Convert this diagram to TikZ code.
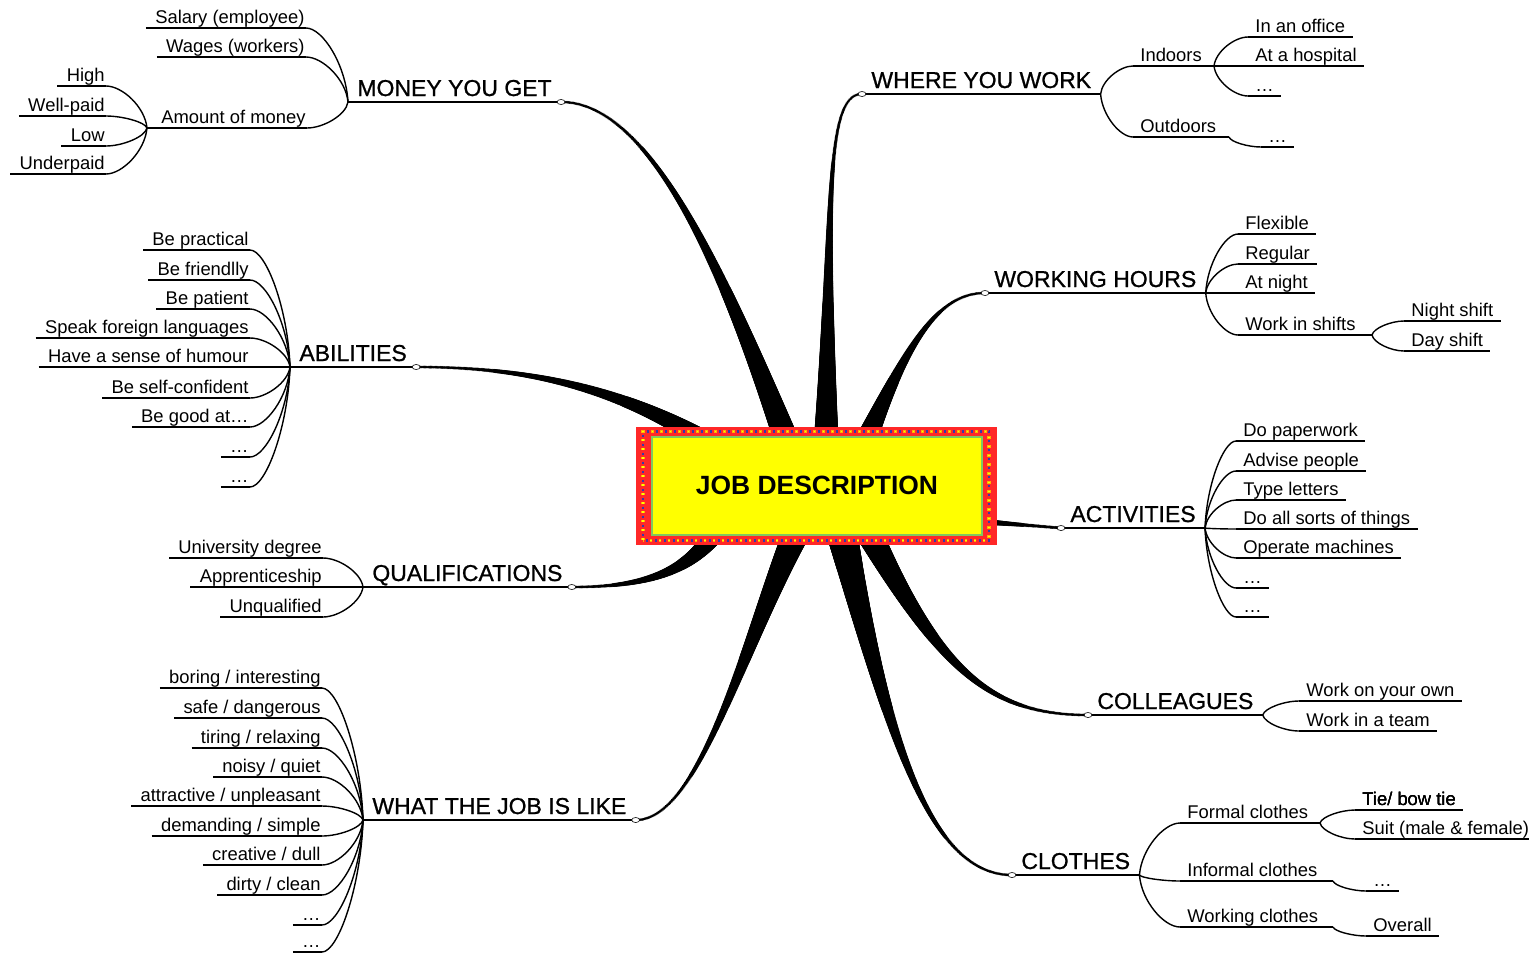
\documentclass[tikz,border=0pt]{standalone}
\usepackage{fontspec}
\setmainfont{Liberation Sans}
\newfontfamily\topicfont{Liberation Sans}[FakeBold=0.9]
\usetikzlibrary{calc,decorations.markings}

\definecolor{boxred}{HTML}{FF2828}
\definecolor{boxyellow}{HTML}{FFFF00}
\definecolor{boxgreen}{HTML}{80C860}
\definecolor{dotblue}{HTML}{3838A8}
\definecolor{dotorange}{HTML}{FFB000}

% thin curved link from a hub to the start of an underline
\newcommand{\twig}[2]{\draw[twigline] let \p1=(#1), \p2=(#2) in (\p1) .. controls ({\x1+0.05*(\x2-\x1)},{\y1+0.5*(\y2-\y1)}) and ({\x1+0.6*(\x2-\x1)},\y2) .. (\p2);}

\tikzset{
  leaf/.style={font=\fontsize{9.2}{11}\selectfont, inner xsep=0pt, inner ysep=0pt, text height=6.6pt, text depth=2.3pt},
  lleaf/.style={leaf, anchor=south east, execute at begin node={\hspace*{4.5pt}}, execute at end node={\hspace*{0.5pt}}},
  rleaf/.style={leaf, anchor=south west, execute at begin node={\hspace*{3.5pt}}, execute at end node={\hspace*{3.5pt}}},
  topic/.style={font=\fontsize{11.5}{14}\topicfont, inner xsep=4.5pt, inner ysep=0pt, text height=8.4pt, text depth=2.8pt, anchor=south west},
  twigline/.style={line width=0.7pt},
  stem/.style={line width=1pt},
  knot/.style={fill=white, draw=black, line width=0.3pt},
  limb/.style 2 args={decoration={markings,
      mark=between positions 0 and 1 step 0.6pt with {\fill (0,0) circle[radius={#2+(#1-#2)*(1-\pgfkeysvalueof{/pgf/decoration/mark info/distance from start}/\pgfdecoratedpathlength)^2}];}},
    decorate}
}

\begin{document}
\begin{tikzpicture}[x=0.5pt, y=-0.5pt]
    \useasboundingbox (0,0) rectangle (1529,954);

    % Main topics
    \node[topic] (money) at (348,102) {MONEY YOU GET};
    \node[topic] (abil) at (290,367) {ABILITIES};
    \node[topic] (qual) at (363,587) {QUALIFICATIONS};
    \node[topic] (like) at (363,820) {WHAT THE JOB IS LIKE};
    \node[topic] (where) at (862,94) {WHERE YOU WORK};
    \node[topic] (hours) at (985,293) {WORKING HOURS};
    \node[topic] (act) at (1061,528) {ACTIVITIES};
    \node[topic] (coll) at (1088,715) {COLLEAGUES};
    \node[topic] (clo) at (1012,875) {CLOTHES};
    \foreach \k in {money,abil,qual,like,where,hours,act,coll,clo}
        \draw[stem] (\k.south west) -- (\k.south east);

    % Branch roots (hidden under the centre box)
    \coordinate (rmoney) at (790,450);
    \coordinate (rwhere) at (826,450);
    \coordinate (rhours) at (862,450);
    \coordinate (rabil) at (720,450);
    \coordinate (ract) at (975,521);
    \coordinate (rqual) at (720,525);
    \coordinate (rlike) at (800,525);
    \coordinate (rcoll) at (865,525);
    \coordinate (rclo) at (840,525);

    % Branches
    \path[limb={6.5}{0.7}] (rmoney) .. controls (730,290) and (655,102) .. (money.south east);
    \path[limb={6.5}{0.7}] (rwhere) .. controls (830,200) and (826,94) .. (where.south west);
    \path[limb={6}{0.7}] (rhours) .. controls (905,350) and (935,293) .. (hours.south west);
    \path[limb={5.5}{0.7}] (rabil) .. controls (620,385) and (520,367) .. (abil.south east);
    \path[limb={1.8}{0.8}] (ract) -- (act.south west);
    \path[limb={5.5}{0.7}] (rqual) .. controls (690,575) and (640,587) .. (qual.south east);
    \path[limb={7}{0.7}] (rlike) .. controls (745,640) and (700,820) .. (like.south east);
    \path[limb={7}{0.7}] (rcoll) .. controls (940,670) and (990,715) .. (coll.south west);
    \path[limb={8}{0.7}] (rclo) .. controls (885,720) and (925,875) .. (clo.south west);

    \foreach \k/\a in {money/south east,abil/south east,qual/south east,like/south east,where/south west,hours/south west,act/south west,coll/south west,clo/south west}
        \filldraw[knot] (\k.\a) ellipse (4 and 2.5);

    % Centre box
    \node[fill=boxred, minimum width=180.5pt, minimum height=59pt, inner sep=0pt] (job) at (816,486) {};
    \draw[dotorange, line width=1.8pt, dash pattern=on 1.4pt off 3.1pt] ($(job.south west)+(8,-5)$) rectangle ($(job.north east)+(-8,5)$);
    \draw[boxyellow, line width=0.8pt, dash pattern=on 0.6pt off 3.9pt, dash phase=-0.4pt] ($(job.south west)+(8,-5)$) rectangle ($(job.north east)+(-8,5)$);
    \draw[dotblue, line width=1.3pt, dash pattern=on 1.1pt off 3.4pt, dash phase=2.4pt] ($(job.south west)+(8,-5)$) rectangle ($(job.north east)+(-8,5)$);
    \node[fill=boxyellow, draw=boxgreen, line width=1pt, minimum width=165pt, minimum height=49pt, inner sep=0pt, font=\fontsize{13.2}{15}\selectfont\bfseries] (jobtext) at (817,485.5) {JOB DESCRIPTION};

    % Money you get
    \node[lleaf] (sal) at (306,28) {Salary (employee)};
    \node[lleaf] (wag) at (306,57) {Wages (workers)};
    \node[lleaf] (amt) at (307,128) {Amount of money};
    \coordinate (amthub) at (147,128);
    \foreach \k in {sal,wag}
        {\draw[twigline] (\k.south west) -- (\k.south east); \twig{money.south west}{\k.south east}}
    \draw[twigline] (amthub) -- (amt.south east);
    \twig{money.south west}{amt.south east}
    \foreach \t/\v [count=\i] in {High/86, Well-paid/116, Low/146, Underpaid/174}
        {\node[lleaf] (pay\i) at (106,\v) {\t};
         \draw[twigline] (pay\i.south west) -- (pay\i.south east);
         \twig{amthub}{pay\i.south east}}

    % Abilities
    \foreach \t/\v [count=\i] in {Be practical/250, Be friendlly/280, Be patient/309, Speak foreign languages/338, Have a sense of humour/367, Be self-confident/398, Be good at\dots/427, \dots/457, \dots/487}
        {\node[lleaf] (ab\i) at (250,\v) {\t};
         \draw[twigline] (ab\i.south west) -- (ab\i.south east);
         \twig{abil.south west}{ab\i.south east}}

    % Qualifications
    \foreach \t/\v [count=\i] in {University degree/558, Apprenticeship/587, Unqualified/617}
        {\node[lleaf] (qu\i) at (323,\v) {\t};
         \draw[twigline] (qu\i.south west) -- (qu\i.south east);
         \twig{qual.south west}{qu\i.south east}}

    % What the job is like
    \foreach \t/\v [count=\i] in {{boring / interesting}/688, {safe / dangerous}/718, {tiring / relaxing}/748, {noisy / quiet}/777, {attractive / unpleasant}/806, {demanding / simple}/836, {creative / dull}/865, {dirty / clean}/895, \dots/925, \dots/952}
        {\node[lleaf] (li\i) at (322,\v) {\t};
         \draw[twigline] (li\i.south west) -- (li\i.south east);
         \twig{like.south west}{li\i.south east}}

    % Where you work
    \node[rleaf] (indoors) at (1133,66) {Indoors};
    \coordinate (indhub) at (1214,66);
    \node[rleaf] (outdoors) at (1133,137) {Outdoors};
    \coordinate (outhub) at (1229,137);
    \draw[twigline] (indoors.south west) -- (indhub);
    \draw[twigline] (outdoors.south west) -- (outhub);
    \twig{where.south east}{indoors.south west}
    \twig{where.south east}{outdoors.south west}
    \foreach \t/\v [count=\i] in {In an office/37, At a hospital/66, \dots/96}
        {\node[rleaf] (in\i) at (1248,\v) {\t};
         \draw[twigline] (in\i.south west) -- (in\i.south east);
         \twig{indhub}{in\i.south west}}
    \node[rleaf] (outdots) at (1261,147) {\dots};
    \draw[twigline] (outdots.south west) -- (outdots.south east);
    \twig{outhub}{outdots.south west}

    % Working hours
    \foreach \t/\v [count=\i] in {Flexible/234, Regular/264, At night/293}
        {\node[rleaf] (ho\i) at (1238,\v) {\t};
         \draw[twigline] (ho\i.south west) -- (ho\i.south east);
         \twig{hours.south east}{ho\i.south west}}
    \node[rleaf] (shifts) at (1238,335) {Work in shifts};
    \coordinate (shifthub) at (1372,335);
    \draw[twigline] (shifts.south west) -- (shifthub);
    \twig{hours.south east}{shifts.south west}
    \foreach \t/\v [count=\i] in {Night shift/321, Day shift/351}
        {\node[rleaf] (sh\i) at (1404,\v) {\t};
         \draw[twigline] (sh\i.south west) -- (sh\i.south east);
         \twig{shifthub}{sh\i.south west}}

    % Activities
    \foreach \t/\v [count=\i] in {Do paperwork/441, Advise people/471, Type letters/500, Do all sorts of things/529, Operate machines/558, \dots/588, \dots/617}
        {\node[rleaf] (ac\i) at (1236,\v) {\t};
         \draw[twigline] (ac\i.south west) -- (ac\i.south east);
         \twig{act.south east}{ac\i.south west}}

    % Colleagues
    \foreach \t/\v [count=\i] in {Work on your own/701, Work in a team/731}
        {\node[rleaf] (co\i) at (1299,\v) {\t};
         \draw[twigline] (co\i.south west) -- (co\i.south east);
         \twig{coll.south east}{co\i.south west}}

    % Clothes
    \node[rleaf] (formal) at (1180,823) {Formal clothes};
    \coordinate (formhub) at (1320,823);
    \node[rleaf] (informal) at (1180,881) {Informal clothes};
    \coordinate (infhub) at (1333,881);
    \node[rleaf] (workcl) at (1180,927) {Working clothes};
    \coordinate (workhub) at (1333,927);
    \draw[twigline] (formal.south west) -- (formhub);
    \draw[twigline] (informal.south west) -- (infhub);
    \draw[twigline] (workcl.south west) -- (workhub);
    \foreach \k in {formal,informal,workcl}
        \twig{clo.south east}{\k.south west}
    \node[rleaf] (tie) at (1355,810) {Tie/ bow tie};
    \node[rleaf] (suit) at (1355,839) {Suit (male \& female)};
    \node[rleaf] (infdots) at (1366,891) {\dots};
    \node[rleaf] (overall) at (1366,936) {Overall};
    \foreach \k in {tie,suit,infdots,overall}
        \draw[twigline] (\k.south west) -- (\k.south east);
    \twig{formhub}{tie.south west}
    \twig{formhub}{suit.south west}
    \twig{infhub}{infdots.south west}
    \twig{workhub}{overall.south west}
\end{tikzpicture}
\end{document}
